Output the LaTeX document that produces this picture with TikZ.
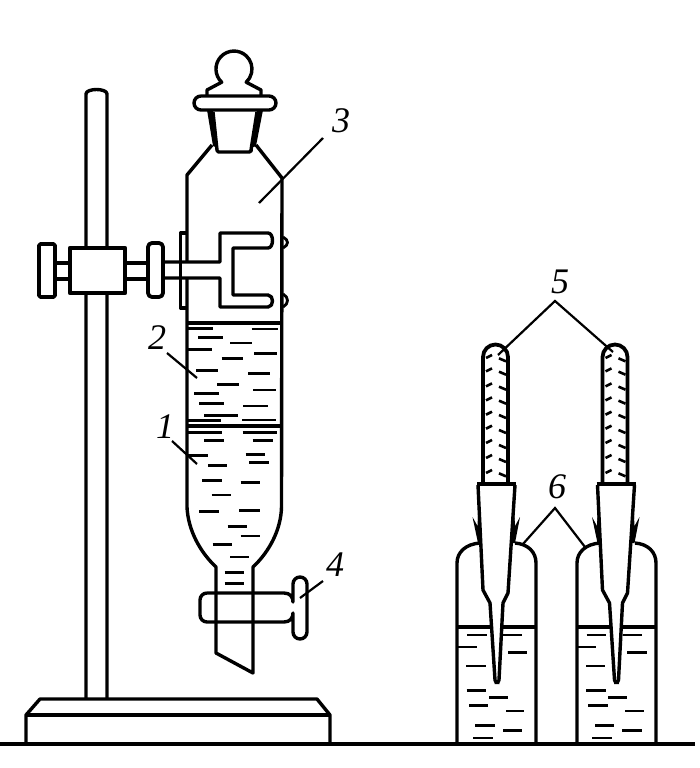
\documentclass[tikz,border=0pt]{standalone}
\usepackage{fontspec}
\setmainfont{Liberation Serif}
\tikzset{
  glass/.style={line width=3.4pt,line join=round},
  heavy/.style={line width=4.5pt},
  liquid/.style={line width=2.5pt},
  leader/.style={line width=2.2pt},
  numlabel/.style={font=\itshape\fontsize{36}{36}\selectfont,inner sep=0pt,text=black},
  tickmark/.style={line width=2.6pt}
}
\newcommand{\pipette}[1]{%
  \begin{scope}[xshift=#1pt]
    \draw[glass,line width=3.8pt] (483,483) -- (483,357) arc[start angle=180,end angle=360,radius=12.5] -- (508,483);
    \foreach \y in {285,325,370,412,455,497,540,585,630}
      \draw[tickmark] (486,{260+(\y+9)/3}) -- (492,{260+\y/3});
    \foreach \y in {295,335,380,422,465,510,555,597,640}
      \draw[tickmark] (499,{260+\y/3}) -- (506,{260+(\y+9)/3});
    \draw[glass] (477,484) -- (516,484);
    \draw[glass] (478,485) -- (483,590) -- (490,603) -- (495,680) arc[start angle=180,end angle=0,radius=2] -- (503,603) -- (508,593) -- (515,485);
    \fill (495,680) -- (499,680) -- (499.5,684) -- (494.5,684) -- cycle;
    \fill (472.5,517) -- (477.5,526) -- (478,516) -- (481.5,543) -- (478,543) -- cycle;
    \fill (520,517) -- (515,526) -- (514.5,516) -- (511.5,543) -- (515,543) -- cycle;
  \end{scope}}
\begin{document}
\begin{tikzpicture}[x=1pt,y=-1pt]
\useasboundingbox[fill=white] (0,0) rectangle (700,768);
% ground and base
\draw[heavy] (0,744) -- (695,744);
\draw[glass] (26,744) -- (26,715) -- (40,699) -- (317,699) -- (330,715) -- (330,744);
\draw[glass,line width=3.8pt] (26,715) -- (330,715);
% pole
\draw[glass] (86,699) -- (86,94) .. controls (86,88) and (107,88) .. (107,94) -- (107,699);
% clamp block and knobs
\filldraw[fill=white,glass,line width=4.2pt] (70,248) rectangle (125,293);
\draw[glass] (55,263) -- (70,263) (55,279) -- (70,279) (125,263) -- (148,263) (125,279) -- (148,279);
\draw[glass,line width=3.8pt,rounded corners=1.5pt] (39,244) rectangle (55,297);
\draw[glass,line width=3.8pt,rounded corners=4pt] (148,243) rectangle (163,297);
% funnel
\draw[glass] (187,262) -- (187,175) -- (212,145);
\draw[glass] (256,145) -- (282,178) -- (281.5,507);
\draw[glass] (187,278) -- (187,507) .. controls (188,530) and (200,552) .. (216,567) -- (216,653) -- (253,673) -- (253,567) .. controls (269,552) and (281,530) .. (281.5,507);
% bracket behind funnel and bumps
\draw[glass] (187,233) -- (180.5,233) -- (180.5,308) -- (187,308);
\draw[glass,line width=2.8pt] (283,237) .. controls (289,240) and (289,245) .. (283,248);
\draw[glass,line width=2.8pt] (283,294) .. controls (289,297) and (289,304) .. (283,307);
% fork and rod
\draw[glass] (163,262) -- (220,262) -- (220,233) -- (268,233) .. controls (274,233) and (274,248) .. (268,248) -- (233,248) -- (233,295) -- (268,295) .. controls (274,295) and (274,307) .. (268,307) -- (220,307) -- (220,278) -- (163,278);
% stopper
\draw[glass] (207,96) -- (207,90) -- (221.7,82.2) arc[start angle=133,end angle=407,radius=18] -- (261,90) -- (261,96);
\draw[glass] (201,96) -- (269,96) arc[start angle=-90,end angle=90,radius=7] -- (201,110) arc[start angle=90,end angle=270,radius=7];
\draw[glass] (213,112) -- (217,150) [rounded corners=1.5pt] -- (217,152) -- (251,152) -- (251,150) [sharp corners] -- (257,112);
\fill (207,110) -- (213,110) -- (218,148) -- (213,146) -- cycle;
\fill (263,110) -- (257,110) -- (251,148) -- (256,146) -- cycle;
% funnel liquid surfaces
\draw[heavy,line width=3.8pt] (187,323) -- (281,323);
\draw[heavy,line width=3.8pt] (187,426) -- (281,426);
\foreach \a/\b/\c in {175/250/55,365/445/57,205/280/82,300/365/99,175/245/118,372/440/130,275/340/146,198/265/181,355/420/190,262/328/223,192/268/250,370/437/240,208/282/281,340/415/288,222/323/316,175/272/331,337/437/330,175/275/367,338/440/367,222/282/391,368/428/391,175/233/436,347/405/433,235/292/467,358/418/458,217/275/512,332/390/517,245/303/555,208/268/604,328/390/602,293/352/649,332/390/678,248/307/704,300/358/741,284/343/787,284/343/820}
  \draw[liquid] ({130+\a/3},{310+\c/3}) -- ({130+\b/3},{310+\c/3});
% stopcock
\draw[glass] (207,593) -- (284,593) .. controls (290,593) and (293,597) .. (293,602) -- (293,584) arc[start angle=180,end angle=360,radius=7] -- (307,632) arc[start angle=0,end angle=180,radius=7] -- (293,613) .. controls (293,618) and (290,622) .. (284,622) -- (207,622) arc[start angle=90,end angle=180,radius=7] -- (200,600) arc[start angle=180,end angle=270,radius=7];
% labels with leaders
\node[numlabel] (n3) at (341,121) {3};
\node[numlabel] (n2) at (157,338) {2};
\node[numlabel] (n1) at (165,427) {1};
\node[numlabel] (n4) at (335,565) {4};
\node[numlabel] (n5) at (560,282) {5};
\node[numlabel] (n6) at (557,487) {6};
\coordinate (a3) at (323,138); \coordinate (b3) at (259,203);
\coordinate (a2) at (167,353); \coordinate (b2) at (197,378);
\coordinate (a1) at (172,441); \coordinate (b1) at (197,464);
\coordinate (a4) at (323,581); \coordinate (b4) at (300,598);
\coordinate (a5) at (555,301); \coordinate (b5) at (498,355); \coordinate (c5) at (613,352);
\coordinate (a6) at (555,508); \coordinate (b6) at (523,544); \coordinate (c6) at (585,547);
\draw[leader] (a3) -- (b3);
\draw[leader] (a2) -- (b2);
\draw[leader] (a1) -- (b1);
\draw[leader] (a4) -- (b4);
\draw[leader] (b5) -- (a5) -- (c5);
\draw[leader] (b6) -- (a6) -- (c6);
% bottles
\draw[glass] (457,744) -- (457,563) .. controls (457,552) and (466,544) .. (480,543);
\draw[glass] (515,543) .. controls (528,544) and (536,552) .. (536,563) -- (536,744);
\draw[glass] (577,744) -- (577,563) .. controls (577,552) and (586,544) .. (600,543);
\draw[glass] (635,543) .. controls (648,544) and (656,552) .. (656,563) -- (656,744);
\draw[heavy] (457,627) -- (491,627) (503,627) -- (536,627);
\draw[heavy] (577,627) -- (610,627) (622,627) -- (656,627);
\foreach \a/\b/\c in {82/140/405,190/245/405,55/110/441,205/262/458,78/137/498,80/137/571,148/205/592,88/145/616,198/253/633,105/165/676,190/247/692,100/158/714,440/497/405,550/605/405,415/467/441,562/620/458,438/495/498,438/497/571,505/562/592,445/503/616,555/612/633,465/522/676,547/605/692,457/515/714}
  \draw[liquid] ({440+\a/3},{500+\c/3}) -- ({440+\b/3},{500+\c/3});
% pipettes
\pipette{0}
\pipette{119.5}
\end{tikzpicture}
\end{document}
